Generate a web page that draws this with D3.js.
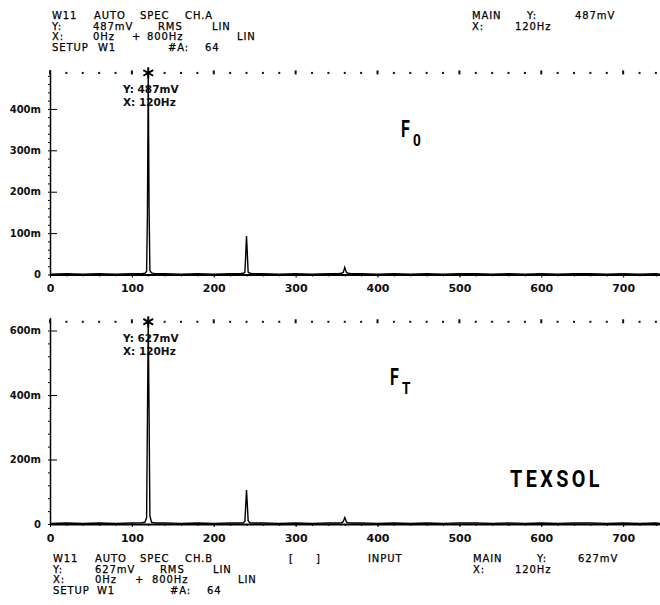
<!DOCTYPE html>
<html>
<head>
<meta charset="utf-8">
<script src="https://cdn.jsdelivr.net/npm/d3@7"></script>
<style>
  body { margin: 0; background: #fff; }
  svg { display: block; }
  .hdr { font-family: "DejaVu Sans", sans-serif; font-size: 10px; fill: #000; stroke: #000; stroke-width: 0.25px; letter-spacing: 0.9px; }
  .tick text { font-family: "DejaVu Sans", sans-serif; font-weight: bold; fill: #111; }
  .note { font-family: "DejaVu Sans", sans-serif; font-weight: bold; font-size: 10.5px; fill: #111; }
</style>
</head>
<body>
<div id="chart"></div>
<script>
// spectrum data (Hz, mV)
var freqs = [0, 20, 40, 60, 80, 100,
  112, 116, 118, 119, 120, 121, 122, 124, 128,
  140, 160, 180, 200, 220,
  232, 236, 238, 239, 240, 241, 242, 244, 248,
  260, 280, 300, 320, 340,
  352, 356, 358, 359, 360, 361, 362, 364, 368,
  380, 400, 420, 440, 460, 480, 500, 520, 540, 560, 580, 600, 620, 640, 660, 680, 700, 720, 740,
  745];
var ampF0 = [1, 2, 1, 2, 1, 2,
  2, 3, 8, 150, 487, 160, 10, 4, 2,
  2, 1, 2, 1, 2,
  2, 3, 5, 45, 93, 50, 6, 3, 2,
  2, 1, 2, 1, 2,
  2, 3, 5, 10, 17, 11, 5, 3, 2,
  2, 1, 2, 1, 2, 1, 2, 2, 1, 2, 1, 2, 1, 2, 2, 1, 2, 1, 2,
  1];
var ampFT = [2, 3, 2, 3, 2, 3,
  4, 6, 20, 330, 627, 340, 25, 6, 3,
  3, 2, 3, 2, 3,
  3, 4, 8, 55, 105, 60, 10, 4, 3,
  3, 2, 3, 2, 3,
  3, 4, 7, 13, 20, 14, 6, 4, 3,
  3, 2, 3, 2, 3, 2, 3, 3, 2, 3, 2, 3, 2, 3, 3, 2, 3, 2, 3,
  2];
var xTicks = [0, 100, 200, 300, 400, 500, 600, 700];
var yTicksF0 = [0, 100, 200, 300, 400];
var yTicksFT = [0, 200, 400, 600];
var markerF0 = 487, markerFT = 627, markerHz = 120;

var W = 660, H = 605;
var svg = d3.select("#chart").append("svg")
    .attr("width", W)
    .attr("height", H)

var x = d3.scaleLinear().domain([0, 745]).range([50, 660])

// draws one spectrum panel
function panel(amps, yTicks, yMax, y0, y1, minorStep, marker) {
  var y = d3.scaleLinear().domain([0, yMax]).range([y0, y1])
  var g = svg.append("g")

  // minor ticks on y axis
  g.append("g")
    .attr("transform", "translate(50,0)")
    .call(d3.axisLeft(y).tickValues(d3.range(0, yMax, minorStep)).tickSize(2).tickSizeOuter(0).tickFormat(""))
    .call(function(a) { a.select(".domain").attr("stroke-width", 1.5) })

  // major ticks
  g.append("g")
    .attr("transform", "translate(50,0)")
    .call(d3.axisLeft(y).tickValues(yTicks).tickSize(-7).tickSizeOuter(0).tickPadding(9)
      .tickFormat(function(d) { return d == 0 ? "0" : d + "m" }))
    .call(function(a) { a.select(".domain").remove() })
    .selectAll("text").style("font-size", "10px")

  // x axis
  g.append("g")
    .attr("transform", "translate(0," + y(0) + ")")
    .call(d3.axisBottom(x).tickValues(d3.range(0, 745, 20)).tickSize(2).tickSizeOuter(0).tickFormat(""))
    .call(function(a) { a.select(".domain").attr("stroke-width", 2) })
  g.append("g")
    .attr("transform", "translate(0," + y(0) + ")")
    .call(d3.axisBottom(x).tickValues(xTicks).tickSize(3).tickPadding(7))
    .call(function(a) { a.select(".domain").remove() })
    .selectAll("text").style("font-size", "11px")

  // dotted marker level
  g.append("g").selectAll("rect")
    .data(d3.range(0, 741, 20))
    .enter().append("rect")
      .attr("x", function(d) { return x(d) - 1 })
      .attr("y", function(d) { return y(marker) - (d % 100 == 0 ? 2.5 : 1) })
      .attr("width", 2)
      .attr("height", function(d) { return d % 100 == 0 ? 4 : 2 })
      .attr("fill", "#111")

  // marker readout
  g.append("text").attr("class", "note")
    .attr("x", 123).attr("y", y(marker) + 20)
    .text("Y: " + marker + "mV")
  g.append("text").attr("class", "note")
    .attr("x", 123).attr("y", y(marker) + 33)
    .text("X: " + markerHz + "Hz")

  // spectrum line
  var line = d3.line()
    .x(function(d, i) { return x(freqs[i]) })
    .y(function(d) { return y(d) })
  g.append("path")
    .datum(amps)
    .attr("d", line)
    .attr("fill", "none")
    .attr("stroke", "#000")
    .attr("stroke-width", 1.4)

  // cursor star
  g.append("path")
    .attr("d", d3.symbol(d3.symbolAsterisk, 90)())
    .attr("transform", "translate(" + x(markerHz) + "," + y(marker) + ")")
    .attr("fill", "none")
    .attr("stroke", "#000")
    .attr("stroke-width", 2)
}

panel(ampF0, yTicksF0, 495, 274.5, 69.6, 20, markerF0)
panel(ampFT, yTicksFT, 640, 524, 317.6, 40, markerFT)

// header text, word by word
function words(list, y) {
  list.forEach(function(w) {
    svg.append("text").attr("class", "hdr")
      .attr("x", w[0]).attr("y", y)
      .text(w[1])
  })
}
words([[52, "W11"], [94, "AUTO"], [140, "SPEC"], [185, "CH.A"], [472, "MAIN"], [527, "Y:"], [575, "487mV"]], 19)
words([[52, "Y:"], [93, "487mV"], [158, "RMS"], [212, "LIN"], [472, "X:"], [515, "120Hz"]], 29.5)
words([[52, "X:"], [93, "0Hz"], [132, "+"], [147, "800Hz"], [237, "LIN"]], 40)
words([[52, "SETUP"], [98, "W1"], [168, "#A:"], [205, "64"]], 50.5)

words([[53, "W11"], [95, "AUTO"], [140, "SPEC"], [185, "CH.B"], [289, "["], [316, "]"], [368, "INPUT"], [473, "MAIN"], [537, "Y:"], [578, "627mV"]], 562)
words([[53, "Y:"], [95, "627mV"], [160, "RMS"], [213, "LIN"], [473, "X:"], [515, "120Hz"]], 572.5)
words([[53, "X:"], [95, "0Hz"], [135, "+"], [152, "800Hz"], [238, "LIN"]], 583)
words([[53, "SETUP"], [97, "W1"], [170, "#A:"], [207, "64"]], 593.5)

// panel labels
var lab = svg.append("g").style("font-family", "Roboto, 'DejaVu Sans', sans-serif").style("font-weight", "bold").attr("fill", "#000")
lab.append("text").attr("transform", "translate(401,137) scale(0.7,1)").style("font-size", "23px").text("F")
lab.append("text").attr("transform", "translate(413,146) scale(0.8,1)").style("font-size", "17px").text("0")
lab.append("text").attr("transform", "translate(390,385) scale(0.7,1)").style("font-size", "23px").text("F")
lab.append("text").attr("transform", "translate(402,394) scale(0.8,1)").style("font-size", "17px").text("T")
lab.append("text")
    .attr("x", 510).attr("y", 487)
    .attr("textLength", 93).attr("lengthAdjust", "spacingAndGlyphs")
    .style("font-size", "23px").style("letter-spacing", "4px")
    .text("TEXSOL")
</script>
</body>
</html>
